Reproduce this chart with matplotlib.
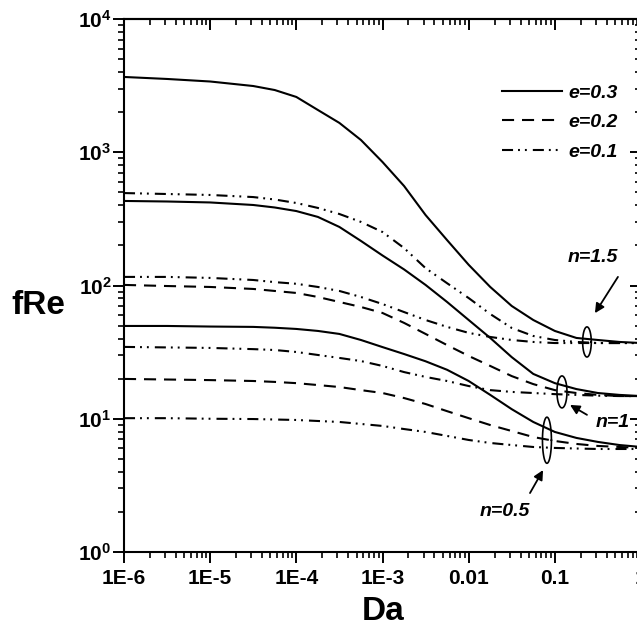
import numpy as np
import matplotlib
matplotlib.use("Agg")
import matplotlib.pyplot as plt
from matplotlib.ticker import FixedLocator, LogLocator, FixedFormatter, NullFormatter
from matplotlib.lines import Line2D

plt.rcParams['font.family'] = ['Liberation Sans', 'DejaVu Sans']
plt.rcParams['font.weight'] = 'bold'
plt.rcParams['mathtext.fontset'] = 'custom'
plt.rcParams['mathtext.rm'] = 'Liberation Sans:bold'
plt.rcParams['mathtext.bf'] = 'Liberation Sans:bold'

# Darcy number grid (quarter decades near the transition)
da = [1e-6, 3.16e-6, 1e-5, 3.16e-5, 5.62e-5, 1e-4, 1.78e-4, 3.16e-4, 5.62e-4,
      1e-3, 1.78e-3, 3.16e-3, 5.62e-3, 1e-2, 1.78e-2, 3.16e-2, 5.62e-2,
      0.1, 0.178, 0.316, 0.562, 1.0]

# n = 1.5
fre_n15_e03 = [3673, 3548, 3396, 3141, 2930, 2600, 2075, 1660, 1236, 845, 558,
               338, 219, 143, 97.5, 70.2, 55.1, 45.6, 40.4, 39.0, 37.7, 37.0]
fre_n15_e02 = [494, 486, 478, 461, 442, 416, 382, 344, 300, 252, 191, 135,
               104, 80.5, 61.1, 48.0, 41.8, 39.0, 37.7, 37.0, 37.0, 37.0]
fre_n15_e01 = [116, 116, 114, 110, 106, 103, 97.5, 91.0, 82.0, 72.6, 63.2, 55.1,
               48.9, 44.1, 41.1, 39.0, 37.7, 37.0, 37.0, 37.0, 37.0, 37.0]
# n = 1
fre_n1_e03 = [431, 427, 420, 402, 385, 362, 327, 275, 216, 168, 132, 101,
              75.2, 55.1, 40.4, 29.0, 21.7, 18.5, 16.7, 15.6, 15.1, 14.8]
fre_n1_e02 = [101, 99.1, 97.5, 94.2, 91.0, 87.9, 82.0, 75.2, 69.0, 62.2, 52.4,
              43.3, 35.7, 29.6, 24.9, 20.9, 18.2, 16.4, 15.6, 15.1, 14.8, 14.8]
fre_n1_e01 = [34.6, 34.3, 34.0, 33.3, 32.8, 31.7, 30.1, 28.6, 27.1, 24.9, 22.4,
              20.6, 19.2, 17.6, 16.4, 15.9, 15.6, 15.3, 15.1, 14.9, 14.8, 14.8]
# n = 0.5
fre_n05_e03 = [49.7, 49.7, 49.2, 48.9, 48.2, 47.2, 45.6, 43.3, 39.0, 34.5, 30.6,
               27.0, 23.3, 19.2, 15.1, 11.8, 9.46, 7.96, 7.18, 6.70, 6.35, 6.14]
fre_n05_e02 = [19.9, 19.7, 19.5, 19.2, 18.9, 18.5, 17.9, 17.3, 16.4, 15.6, 14.3,
               12.9, 11.4, 10.1, 8.97, 8.09, 7.29, 6.81, 6.47, 6.25, 6.14, 6.04]
fre_n05_e01 = [10.1, 10.1, 10.0, 9.95, 9.87, 9.79, 9.62, 9.46, 9.14, 8.83, 8.37,
               7.96, 7.43, 6.93, 6.58, 6.35, 6.14, 6.04, 5.98, 5.93, 5.93, 5.93]

x_ticks = [1e-6, 1e-5, 1e-4, 1e-3, 1e-2, 1e-1, 1]
x_labels = ['1E-6', '1E-5', '1E-4', '1E-3', '0.01', '0.1', '1']
y_ticks = [1, 10, 100, 1000, 10000]
y_labels = [r'$\mathbf{10^{%d}}$' % k for k in range(5)]

solid = '-'
dashed = (0, (5.8, 3.8))
dashdot = (0, (5.3, 2.4, 0.9, 2.4, 0.9, 2.9))
lw = 1.5

fig = plt.figure(figsize=(6.37, 6.36), dpi=100)
ax = fig.add_axes([124 / 637, 84 / 636, 517 / 637, 533 / 636])
ax.set_xscale('log')
ax.set_yscale('log')

ax.plot(da, fre_n15_e03, color='k', lw=lw, ls=solid)
ax.plot(da, fre_n15_e02, color='k', lw=lw, ls=dashdot)
ax.plot(da, fre_n15_e01, color='k', lw=lw, ls=dashdot)
ax.plot(da, fre_n1_e03, color='k', lw=lw, ls=solid)
ax.plot(da, fre_n1_e02, color='k', lw=lw, ls=dashed)
ax.plot(da, fre_n1_e01, color='k', lw=lw, ls=dashdot)
ax.plot(da, fre_n05_e03, color='k', lw=lw, ls=solid)
ax.plot(da, fre_n05_e02, color='k', lw=lw, ls=dashed)
ax.plot(da, fre_n05_e01, color='k', lw=lw, ls=dashdot)

ax.set_xlim(1e-6, 1)
ax.set_ylim(1, 1e4)

# ellipses grouping the curves of each n (centre, half width/height in decades)
t = np.linspace(0, 2 * np.pi, 80)
for cx, cy, hx, hy in [(0.236, 37.7, 0.050, 0.113),
                       (0.121, 15.9, 0.058, 0.120),
                       (0.081, 6.9, 0.052, 0.173)]:
    ax.plot(10 ** (np.log10(cx) + hx * np.cos(t)),
            10 ** (np.log10(cy) + hy * np.sin(t)), color='k', lw=1.2)

arrow = dict(arrowstyle='-|>', color='k', lw=1.3, mutation_scale=14,
             shrinkA=0, shrinkB=0)
ax.annotate('', xy=(0.292, 62), xytext=(0.54, 116), arrowprops=arrow)
ax.annotate('', xy=(0.150, 12.7), xytext=(0.236, 10.7), arrowprops=arrow)
ax.annotate('', xy=(0.073, 4.12), xytext=(0.0515, 2.77), arrowprops=arrow)
ax.text(0.277, 161, 'n=1.5', fontsize=14, fontstyle='italic',
        fontweight='bold', ha='center', va='center')
ax.text(0.300, 9.3, 'n=1', fontsize=14, fontstyle='italic',
        fontweight='bold', ha='left', va='center', clip_on=False)
ax.text(0.0264, 2.0, 'n=0.5', fontsize=14, fontstyle='italic',
        fontweight='bold', ha='center', va='center')

handles = [Line2D([], [], color='k', lw=lw, ls=solid),
           Line2D([], [], color='k', lw=lw, ls=dashed),
           Line2D([], [], color='k', lw=lw, ls=dashdot)]
fig.legend(handles, ['e=0.3', 'e=0.2', 'e=0.1'], loc='upper left',
           bbox_to_anchor=(502 / 637, 1 - 84 / 636), frameon=False,
           borderpad=0, borderaxespad=0, handlelength=3.1, handletextpad=0.3,
           labelspacing=0.61,
           prop=dict(family='Liberation Sans', weight='bold', style='italic',
                     size=14))

# ticks: out on bottom/left, in on top/right
ax.xaxis.set_major_locator(FixedLocator(x_ticks))
ax.xaxis.set_major_formatter(FixedFormatter(x_labels))
ax.xaxis.set_minor_locator(LogLocator(base=10, subs=np.arange(2, 10), numticks=20))
ax.xaxis.set_minor_formatter(NullFormatter())
ax.yaxis.set_major_locator(FixedLocator(y_ticks))
ax.yaxis.set_major_formatter(FixedFormatter(y_labels))
ax.yaxis.set_minor_locator(LogLocator(base=10, subs=np.arange(2, 10), numticks=20))
ax.yaxis.set_minor_formatter(NullFormatter())
ax.tick_params(which='major', direction='out', length=8, width=1.4)
ax.tick_params(which='minor', direction='out', length=4.5, width=1.2)
ax.tick_params(axis='x', labelsize=15, pad=4)
ax.tick_params(axis='y', labelsize=15, pad=1)

for side in ['top', 'right']:
    sec = ax.secondary_xaxis(side) if side == 'top' else ax.secondary_yaxis(side)
    axis = sec.xaxis if side == 'top' else sec.yaxis
    axis.set_major_locator(FixedLocator(x_ticks if side == 'top' else y_ticks))
    axis.set_minor_locator(LogLocator(base=10, subs=np.arange(2, 10), numticks=20))
    axis.set_major_formatter(NullFormatter())
    axis.set_minor_formatter(NullFormatter())
    sec.tick_params(which='major', direction='in', length=8, width=1.4)
    sec.tick_params(which='minor', direction='in', length=4.5, width=1.2)
    for sp in sec.spines.values():
        sp.set_linewidth(1.5)

for sp in ax.spines.values():
    sp.set_linewidth(1.5)

fig.text(38 / 637, 1 - 306 / 636, 'fRe', fontsize=24, fontweight='bold',
         ha='center', va='center')
fig.text(383 / 637, 1 - 611 / 636, 'Da', fontsize=24, fontweight='bold',
         ha='center', va='center')

fig.savefig('out.png', dpi=100)
